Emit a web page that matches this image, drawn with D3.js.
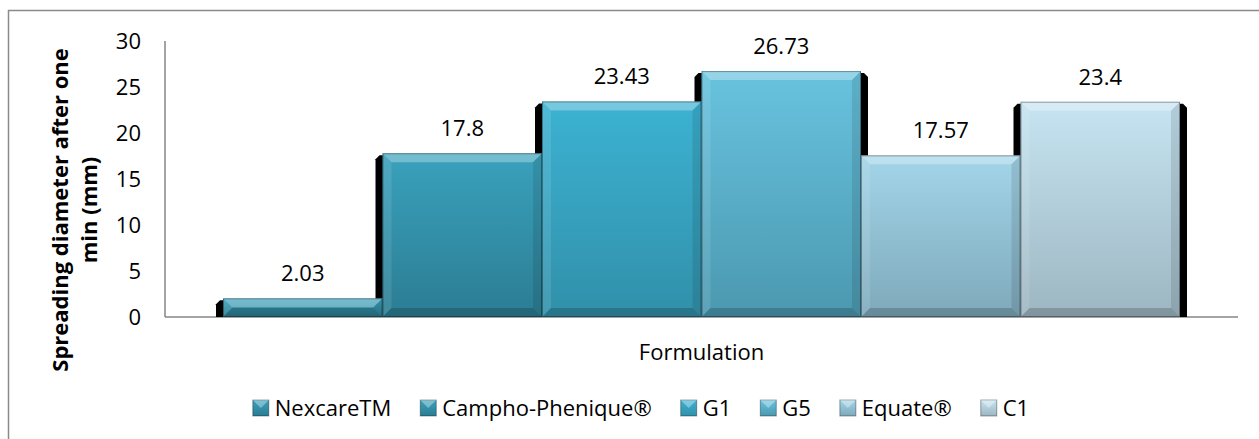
<!DOCTYPE html>
<html><head>
<meta charset="utf-8">
<title>Spreading diameter</title>
<script src="https://cdn.jsdelivr.net/npm/d3@7"></script>
<style>
  body { margin: 0; background: #fff; }
  text { font-family: "Open Sans", "Noto Sans", sans-serif; fill: #000; }
</style>
</head>
<body>
<svg width="1259" height="439"></svg>
<script>
// values
var formulations = ["NexcareTM", "Campho-Phenique\u00AE", "G1", "G5", "Equate\u00AE", "C1"];
var spreadValues = [2.03, 17.8, 23.43, 26.73, 17.57, 23.4];
var yTicks = [0, 5, 10, 15, 20, 25, 30];
var valueLabels = ["2.03", "17.8", "23.43", "26.73", "17.57", "23.4"];

// bar face colours, top and bottom of the gradient
var topColors = ["#3aa2bd", "#3aa1bc", "#3cb2d2", "#68c3df", "#a3d5e9", "#c6e4f2"];
var bottomColors = ["#2b7b91", "#2b7d93", "#3190aa", "#4b98b0", "#7ea9bb", "#9db6c1"];

const svg = d3.select("svg");
const plotLeft = 165, plotRight = 1238, plotTop = 41, plotBottom = 317;

var y = d3.scaleLinear().domain([0, 30]).range([plotBottom, plotTop]);
var x = d3.scaleBand().domain(formulations).range([plotLeft + 58, plotRight - 58]).padding(0);

// outer border
svg.append("rect")
  .attr("x", 8.5).attr("y", 10.5).attr("width", 1400).attr("height", 600)
  .attr("fill", "none").attr("stroke", "#8a8a8a").attr("stroke-width", 1.5);

// gradients
var defs = svg.append("defs");
formulations.forEach(function(f, i) {
  var g = defs.append("linearGradient").attr("id", "grad" + i)
    .attr("x1", 0).attr("y1", 0).attr("x2", 0).attr("y2", 1);
  g.append("stop").attr("offset", "0%").attr("stop-color", topColors[i]);
  g.append("stop").attr("offset", "100%").attr("stop-color", bottomColors[i]);
});

// axes lines
svg.append("line").attr("x1", plotLeft).attr("x2", plotLeft)
  .attr("y1", y(30)).attr("y2", y(0)).attr("stroke", "#868686").attr("stroke-width", 1.5);
svg.append("line").attr("x1", plotLeft).attr("x2", plotRight)
  .attr("y1", y(0)).attr("y2", y(0)).attr("stroke", "#868686").attr("stroke-width", 1.5);

// y tick labels
svg.append("g").selectAll("text").data(yTicks).enter().append("text")
  .attr("x", 141).attr("y", function(d) { return y(d); })
  .attr("dy", "0.35em").attr("text-anchor", "end")
  .style("font-size", "22px")
  .text(function(d) { return d; });

var bars = formulations.map(function(f, i) {
  return { name: f, value: spreadValues[i], i: i,
           x0: x(f), x1: x(f) + x.bandwidth(), y0: y(spreadValues[i]), y1: y(0) };
});

// black shadows behind all bars
var sh = 7;
svg.append("g").selectAll("path").data(bars).enter().append("path")
  .attr("d", function(d) {
    var t = d.y0 + 2;
    return "M" + (d.x0 - sh) + "," + (t + 4) + "L" + (d.x0 - sh + 4) + "," + t +
      "L" + (d.x1 + sh - 4) + "," + t + "L" + (d.x1 + sh) + "," + (t + 4) +
      "L" + (d.x1 + sh) + "," + d.y1 + "L" + (d.x0 - sh) + "," + d.y1 + "Z";
  })
  .attr("fill", "#000");

// faces with bevel
var faces = svg.append("g").selectAll("g").data(bars).enter().append("g");
faces.append("rect")
  .attr("x", function(d) { return d.x0; }).attr("y", function(d) { return d.y0; })
  .attr("width", function(d) { return d.x1 - d.x0; })
  .attr("height", function(d) { return d.y1 - d.y0; })
  .attr("fill", function(d) { return "url(#grad" + d.i + ")"; });

function bev(d) { return Math.min(9, (d.y1 - d.y0) / 2); }
function poly(pts) { return "M" + pts.map(function(p) { return p.join(","); }).join("L") + "Z"; }

faces.append("path").attr("d", function(d) { var b = bev(d);
  return poly([[d.x0, d.y0], [d.x1, d.y0], [d.x1 - b, d.y0 + b], [d.x0 + b, d.y0 + b]]); })
  .attr("fill", "#fff").attr("opacity", 0.3);
faces.append("path").attr("d", function(d) { var b = bev(d);
  return poly([[d.x0, d.y0], [d.x0 + b, d.y0 + b], [d.x0 + b, d.y1 - b], [d.x0, d.y1]]); })
  .attr("fill", "#fff").attr("opacity", 0.1);
faces.append("path").attr("d", function(d) { var b = bev(d);
  return poly([[d.x1, d.y0], [d.x1, d.y1], [d.x1 - b, d.y1 - b], [d.x1 - b, d.y0 + b]]); })
  .attr("fill", "#000").attr("opacity", 0.1);
faces.append("path").attr("d", function(d) { var b = bev(d);
  return poly([[d.x0, d.y1], [d.x0 + b, d.y1 - b], [d.x1 - b, d.y1 - b], [d.x1, d.y1]]); })
  .attr("fill", "#000").attr("opacity", 0.18);
faces.append("rect")
  .attr("x", function(d) { return d.x0 + 0.5; }).attr("y", function(d) { return d.y0 + 0.5; })
  .attr("width", function(d) { return d.x1 - d.x0 - 1; })
  .attr("height", function(d) { return d.y1 - d.y0 - 1; })
  .attr("fill", "none").attr("stroke", "#000").attr("stroke-opacity", 0.35);

// value labels
svg.append("g").selectAll("text").data(bars).enter().append("text")
  .attr("x", function(d) { return (d.x0 + d.x1) / 2; })
  .attr("y", function(d) { return d.y0 - 17; })
  .attr("text-anchor", "middle").style("font-size", "22px")
  .text(function(d, i) { return valueLabels[i]; });

// axis titles
svg.append("text")
  .attr("transform", "translate(60,210) rotate(-90)")
  .attr("text-anchor", "middle").attr("dy", "0.35em")
  .style("font-size", "22px").style("font-weight", "bold")
  .text("Spreading diameter after one");
svg.append("text")
  .attr("transform", "translate(89,210) rotate(-90)")
  .attr("text-anchor", "middle").attr("dy", "0.35em")
  .style("font-size", "22px").style("font-weight", "bold")
  .text("min (mm)");

svg.append("text")
  .attr("x", (plotLeft + plotRight) / 2).attr("y", 352).attr("dy", "0.35em")
  .attr("text-anchor", "middle").style("font-size", "22px")
  .text("Formulation");

// legend
var legend = svg.append("g");
var items = legend.selectAll("g").data(bars).enter().append("g");
items.append("rect")
  .attr("width", 16).attr("height", 16).attr("y", 400)
  .attr("fill", function(d) { return "url(#grad" + d.i + ")"; })
  .attr("stroke", "#000").attr("stroke-opacity", 0.35);
items.append("path")
  .attr("d", "M0,400L16,400L8,408Z")
  .attr("fill", "#fff").attr("opacity", 0.35);
items.append("text")
  .attr("x", 22).attr("y", 408).attr("dy", "0.35em")
  .style("font-size", "22px")
  .text(function(d) { return d.name; });

var widths = [];
items.each(function() { widths.push(d3.select(this).select("text").node().getComputedTextLength() + 22); });
var gap = 29;
var total = d3.sum(widths) + gap * (widths.length - 1);
var cx = 641 - total / 2;
items.attr("transform", function(d, i) {
  var off = cx + d3.sum(widths.slice(0, i)) + gap * i;
  return "translate(" + off + ",0)";
});
</script>
</body>
</html>
